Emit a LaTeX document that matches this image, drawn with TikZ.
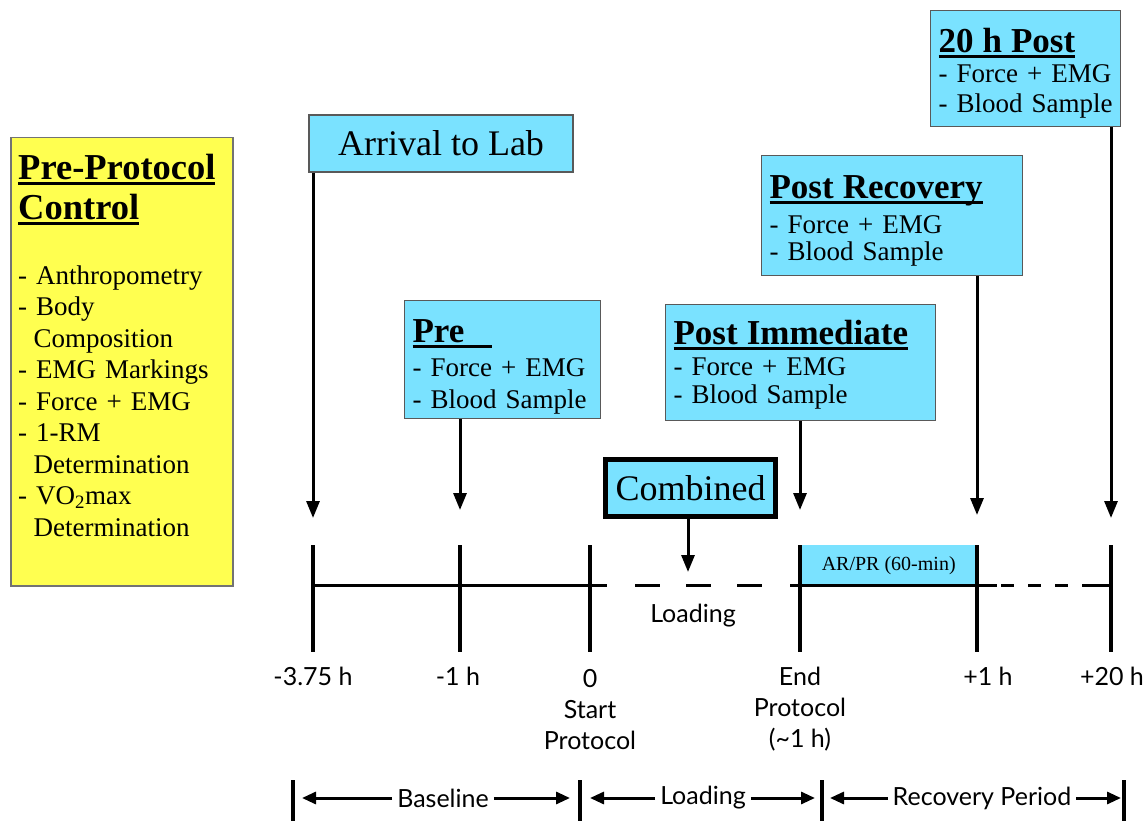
\documentclass[tikz,border=0pt]{standalone}
\usepackage{fontspec}
\setmainfont{Liberation Serif}
\newfontfamily\lblfont{Lato}
\usetikzlibrary{arrows.meta}
\definecolor{cyanbox}{RGB}{122,226,255}
\definecolor{yellowbox}{RGB}{255,255,80}
\newcommand\myul[1]{\leavevmode\setbox0\hbox{#1}\rlap{\rule[-5pt]{\wd0}{2.5pt}}\box0}
\newcommand\boxttl[2]{{\fontsize{35}{40}\selectfont\bfseries\myul{#1}\par}\vspace{#2}}
\begin{document}
\begin{tikzpicture}[x=1pt,y=-1pt,
  cbox/.style={draw=black!65, line width=1.2pt, fill=cyanbox, anchor=north west,
    align=left, inner xsep=8pt, inner ysep=0pt},
  arr/.style={-{Triangle[length=17pt,width=13pt]}, line width=3pt},
  barr/.style={-{Triangle[length=14pt,width=12pt]}, line width=3pt},
  tick/.style={line width=3.2pt},
  tline/.style={line width=3pt},
  lbl/.style={font=\lblfont\fontsize{25}{31}\selectfont, inner sep=2pt}]
\useasboundingbox (0,0) rectangle (1146,821);

% Pre-protocol box
\node[draw=black!55, line width=1.5pt, fill=yellowbox, anchor=north west,
  minimum width=222pt, minimum height=448pt, inner sep=0pt] (pp) at (10,137) {};
\node[anchor=base west, align=left, text width=212pt, inner sep=0pt,
  font=\fontsize{27}{31.5}\selectfont] (pptxt) at (18,180)
  {{\fontsize{36.5}{40}\selectfont\bfseries\myul{Pre-Protocol}\par\myul{Control}\par}
   \vspace{33pt}
   - Anthropometry\\
   - Body\\
   \hspace*{15.5pt}Composition\\
   - EMG Markings\\
   - Force + EMG\\
   - 1-RM\\
   \hspace*{15.5pt}Determination\\
   - VO\textsubscript{2}max\\
   \hspace*{15.5pt}Determination};

% cyan boxes
\node[cbox, anchor=center, align=center, minimum width=264pt, minimum height=57pt,
  font=\fontsize{36}{40}\selectfont] (arrival) at (441,143.5) {Arrival to Lab};
\node[cbox, text width=180pt, text height=42pt, text depth=76pt, font=\fontsize{27}{32}\selectfont]
  (pre) at (404,300) {\boxttl{Pre\hspace{28pt}}{2pt}- Force + EMG\\- Blood Sample};
\node[cbox, text width=254pt, text height=40pt, text depth=76pt, font=\fontsize{27}{28}\selectfont]
  (postimm) at (665,304) {\boxttl{Post Immediate}{3pt}- Force + EMG\\- Blood Sample};
\node[cbox, text width=245pt, text height=43pt, text depth=77pt, font=\fontsize{27}{27}\selectfont]
  (postrec) at (761,155) {\boxttl{Post Recovery}{8pt}- Force + EMG\\- Blood Sample};
\node[cbox, text width=174pt, text height=42pt, text depth=74pt, font=\fontsize{27}{30}\selectfont]
  (post20) at (930,10) {\boxttl{20 h Post}{0pt}- Force + EMG\\- Blood Sample};
\node[draw=black, line width=5pt, fill=cyanbox, minimum width=170pt, minimum height=57pt,
  inner sep=0pt, font=\fontsize{36}{40}\selectfont] (comb) at (690.5,488) {Combined};

% timeline coordinates
\foreach \x/\n in {313/1,460/2,590/3,800/4,977/5,1111/6}{
  \coordinate (t\n) at (\x,545);
  \coordinate (b\n) at (\x,652);
  \coordinate (m\n) at (\x,585);
}
\coordinate (ld) at (688,585);
\coordinate (s1) at (607,585);
\coordinate (d1) at (635,585);
\coordinate (d2) at (762,585);
\coordinate (s2) at (790,585);
\coordinate (s3) at (997,585);

% AR/PR box
\node[fill=cyanbox, anchor=north west, minimum width=177pt, minimum height=40pt,
  inner sep=0pt, font=\fontsize{20}{24}\selectfont] (arpr) at (800,545) {AR/PR (60-min)};

% timeline
\draw[tline] (m1) -- (s1);
\draw[tline, dash pattern=on 25pt off 26pt] (d1) -- (d2);
\draw[tline] (s2) -- (s3);
\draw[tline, dash pattern=on 0pt off 4pt on 13pt off 14pt on 13pt off 14pt on 13pt off 14pt on 13pt off 0pt on 20pt] (s3) -- (m6);
\foreach \n in {1,...,6}{ \draw[tick] (t\n) -- (b\n); }

% arrows
\draw[arr, shorten >=27pt] (arrival.south -| t1) -- (t1);
\draw[arr, shorten >=35pt] (pre.south -| t2) -- (t2);
\draw[arr, shorten >=13pt] (comb.south -| ld) -- (ld);
\draw[arr, shorten >=35pt] (postimm.south -| t4) -- (t4);
\draw[arr, shorten >=30pt] (postrec.south -| t5) -- (t5);
\draw[arr, shorten >=27pt] (post20.south -| t6) -- (t6);

% labels
\node[lbl] (loadlbl) at (693,616) {Loading};
\node[lbl] (l1) at (313,676) {-3.75 h};
\node[lbl] (l2) at (458,676) {-1 h};
\node[lbl, align=center, anchor=north] (l3) at (590,667) {0\\Start\\Protocol};
\node[lbl, align=center, anchor=north] (l4) at (800,665) {End\\Protocol\\(\textasciitilde1 h)};
\node[lbl] (l5) at (988,676) {+1 h};
\node[lbl] (l6) at (1112,676) {+20 h};

% bottom periods
\foreach \x/\n in {293/1,580/2,822/3,1124/4}{
  \coordinate (pt\n) at (\x,780);
  \coordinate (pb\n) at (\x,821);
  \coordinate (pm\n) at (\x,798);
  \draw[tick] (pt\n) -- (pb\n);
}
\node[lbl, inner xsep=5pt] (base) at (443,798) {Baseline};
\node[lbl, inner xsep=5pt] (loadp) at (703,798) {Loading};
\node[lbl, inner xsep=5pt] (rec) at (982,798) {Recovery Period};
\draw[barr, shorten >=9pt] (base.west) -- (pm1);
\draw[barr, shorten >=10pt] (base.east) -- (pm2);
\draw[barr, shorten >=10pt] (loadp.west) -- (pm2);
\draw[barr, shorten >=7pt] (loadp.east) -- (pm3);
\draw[barr, shorten >=8pt] (rec.west) -- (pm3);
\draw[barr, shorten >=3pt] (rec.east) -- (pm4);
\end{tikzpicture}
\end{document}
